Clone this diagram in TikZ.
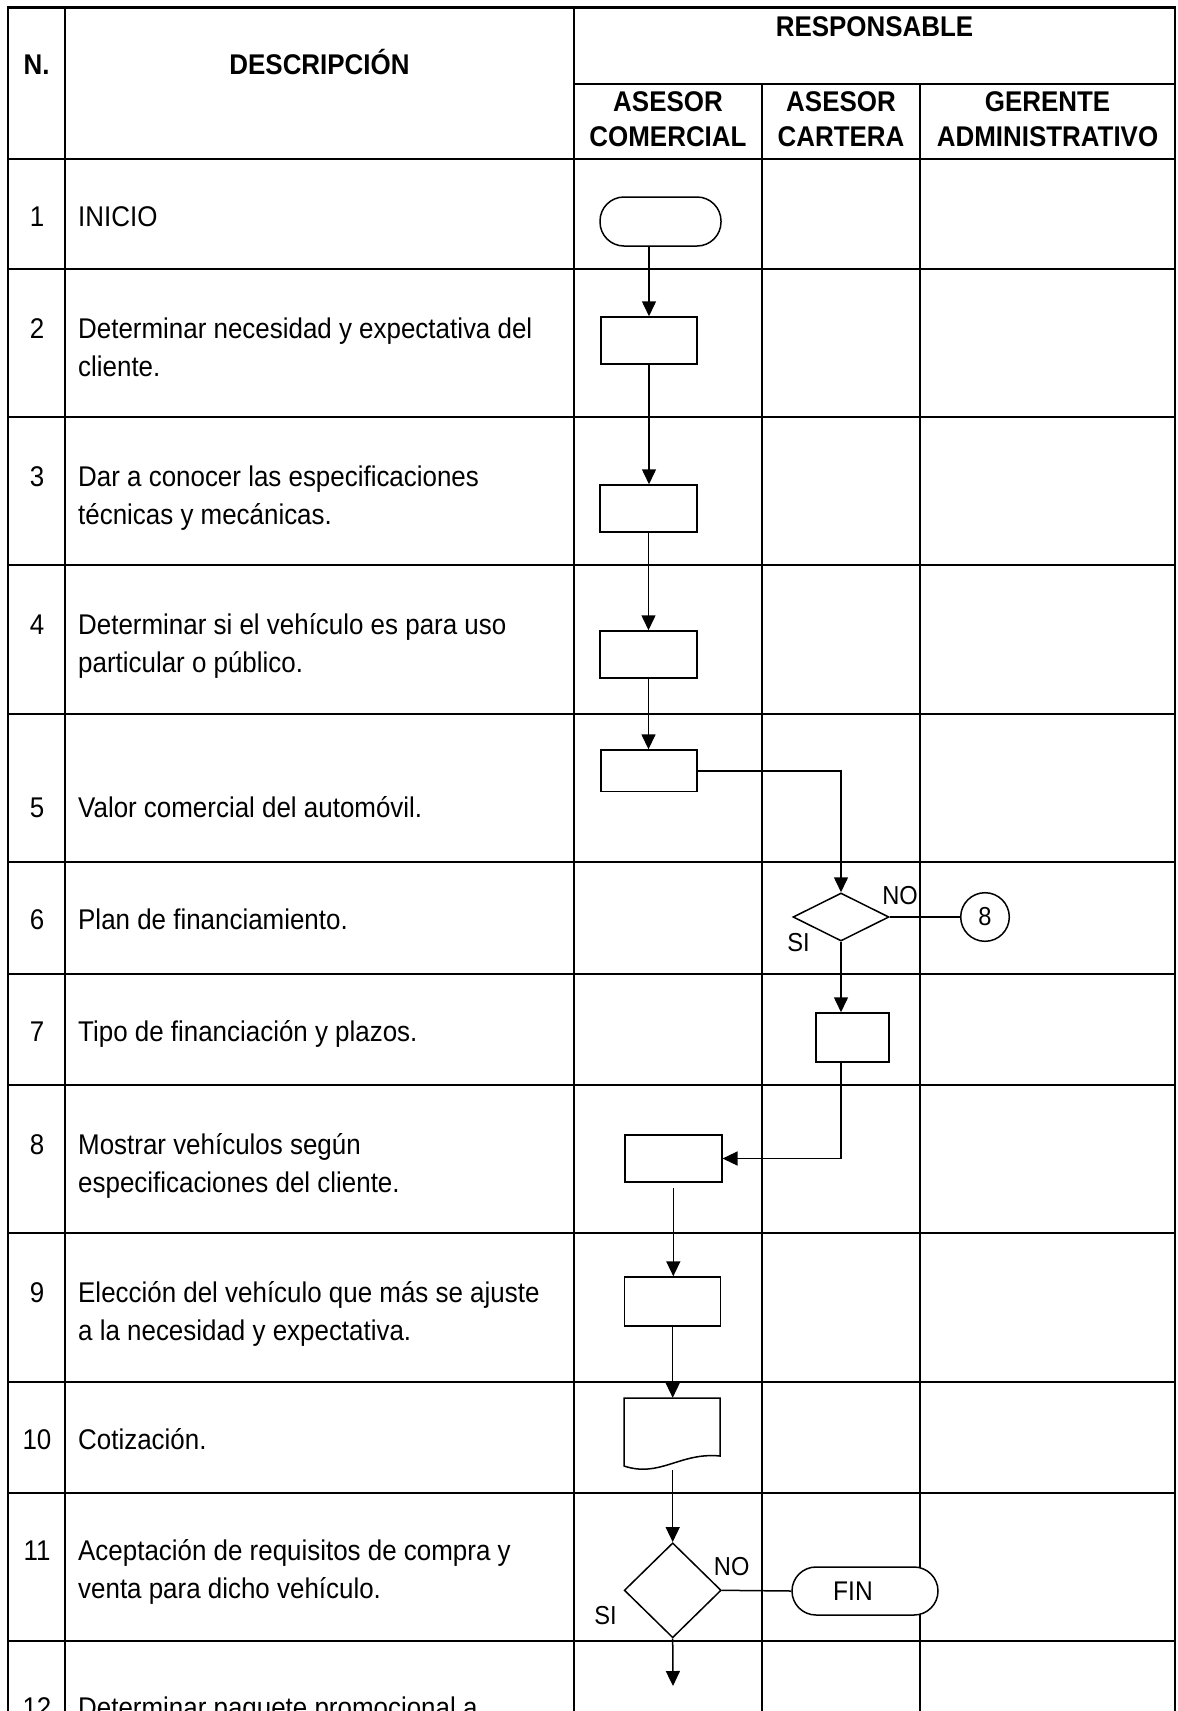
\documentclass[tikz,border=0pt]{standalone}
\usepackage{fontspec}
\setmainfont[FakeStretch=0.91]{Liberation Sans}
\usetikzlibrary{arrows.meta,shapes.geometric}
\begin{document}
\begin{tikzpicture}[x=1pt,y=-1pt,
  every node/.style={font=\fontsize{28.5}{38}\selectfont, inner sep=0pt},
  gridline/.style={line width=2.1pt, line cap=rect},
  shapeline/.style={draw, line width=1.5pt, fill=white},
  procbox/.style={shapeline, rectangle, minimum width=96pt, minimum height=47pt},
  termbox/.style={shapeline, rectangle, rounded corners=24pt},
  decision/.style={shapeline, diamond},
  pageref/.style={shapeline, circle, minimum size=48.6pt, font=\fontsize{26}{30}\selectfont},
  connector/.style={line width=1.5pt},
  flowarrow/.style={connector, -{Triangle[length=15pt,width=14pt]}},
  desctext/.style={anchor=base west, align=left},
  numtext/.style={anchor=base},
  headtext/.style={anchor=base, align=center, font=\fontsize{28.5}{35}\selectfont\bfseries},
  branchlabel/.style={font=\fontsize{26}{30}\selectfont}]

\useasboundingbox (0,0) rectangle (1178,1711);
\fill[white] (0,0) rectangle (1178,1711);

% table frame and rules
\draw[gridline] (8,1716) -- (8,7.5) -- (1175,7.5) -- (1175,1716);
\draw[gridline] (65,7.5) -- (65,1716);
\draw[gridline] (574,7.5) -- (574,1716);
\draw[gridline] (574,84) -- (1175,84);
\draw[gridline] (762,84) -- (762,1716);
\draw[gridline] (920,84) -- (920,1716);
\foreach \r in {159,269,417,565,714,862,974,1085,1233,1382,1493,1641}
  \draw[gridline] (8,\r) -- (1175,\r);

% headings (multi-line nodes sit on the baseline of their last line)
\node[headtext] (hN) at (36.5,74) {N.};
\node[headtext] (hDesc) at (319.5,74) {DESCRIPCIÓN};
\node[headtext] (hResp) at (874.5,36) {RESPONSABLE};
\node[headtext] (hAC) at (668,146.7) {ASESOR\\COMERCIAL};
\node[headtext] (hACa) at (841,146.7) {ASESOR\\CARTERA};
\node[headtext] (hGA) at (1047.5,146.7) {GERENTE\\ADMINISTRATIVO};

% step numbers
\node[numtext] (n1) at (37,226) {1};
\node[numtext] (n2) at (37,338.3) {2};
\node[numtext] (n3) at (37,486.3) {3};
\node[numtext] (n4) at (37,634.8) {4};
\node[numtext] (n5) at (37,817) {5};
\node[numtext] (n6) at (37,929.5) {6};
\node[numtext] (n7) at (37,1041) {7};
\node[numtext] (n8) at (37,1154.3) {8};
\node[numtext] (n9) at (37,1302.8) {9};
\node[numtext] (n10) at (37,1449) {10};
\node[numtext] (n11) at (37,1560) {11};
\node[numtext] (n12) at (37,1717) {12};

% step descriptions
\node[desctext] (t1) at (78,226) {INICIO};
\node[desctext] (t2) at (78,376.3) {Determinar necesidad y expectativa del\\cliente.};
\node[desctext] (t3) at (78,524.3) {Dar a conocer las especificaciones\\técnicas y mecánicas.};
\node[desctext] (t4) at (78,672.8) {Determinar si el vehículo es para uso\\particular o público.};
\node[desctext] (t5) at (78,817) {Valor comercial del automóvil.};
\node[desctext] (t6) at (78,929.5) {Plan de financiamiento.};
\node[desctext] (t7) at (78,1041) {Tipo de financiación y plazos.};
\node[desctext] (t8) at (78,1192.3) {Mostrar vehículos según\\especificaciones del cliente.};
\node[desctext] (t9) at (78,1340.8) {Elección del vehículo que más se ajuste\\a la necesidad y expectativa.};
\node[desctext] (t10) at (78,1449) {Cotización.};
\node[desctext] (t11) at (78,1598) {Aceptación de requisitos de compra y\\venta para dicho vehículo.};
\node[desctext] (t12) at (78,1717) {Determinar paquete promocional a};

% flowchart symbols
\node[termbox, minimum width=121pt, minimum height=49pt] (start) at (660.5,221.5) {};
\node[procbox] (b2) at (649,340.5) {};
\node[procbox, minimum width=97pt] (b3) at (648.5,508.5) {};
\node[procbox, minimum width=97pt] (b4) at (648.5,654.5) {};
\node[procbox, minimum height=41.5pt] (b5) at (649,770.8) {};
\node[decision, minimum width=96pt, minimum height=48pt] (d6) at (841,917) {};
\node[pageref] (c8) at (985,917) {8};
\node[procbox, minimum width=73pt, minimum height=49pt] (b7) at (852.5,1037.5) {};
\node[procbox, minimum width=97pt] (b8) at (673.3,1158.5) {};
\node[procbox, minimum height=49pt] (b9) at (672.7,1301.5) {};
\draw[shapeline] (624,1466) -- (624,1398) -- (720,1398) -- (720,1456)
  .. controls (680,1452) and (660,1478) .. (624,1466) -- cycle;
\node[minimum width=96pt, minimum height=68pt] (doc) at (672,1432) {};
\node[decision, minimum width=97pt, minimum height=95pt] (d11) at (672.7,1590.3) {};
\node[termbox, minimum width=146pt, minimum height=48pt,
  label={[xshift=-12pt, font=\fontsize{27}{30}\selectfont]center:FIN}] (fin) at (865,1591) {};
\coordinate (out) at (673,1686);

% branch labels
\node[branchlabel] (no6) at (900,896) {NO};
\node[branchlabel] (si6) at (798.5,943) {SI};
\node[branchlabel] (no11) at (731.7,1567) {NO};
\node[branchlabel] (si11) at (605.5,1616) {SI};

% connectors
\draw[flowarrow] (start.south -| b2.north) -- (b2.north);
\draw[flowarrow] (b2.south) -- (b2.south |- b3.north);
\draw[flowarrow] (b3.south) -- (b3.south |- b4.north);
\draw[flowarrow] (b4.south) -- (b4.south |- b5.north);
\draw[flowarrow] (b5.east) -| (d6.north);
\draw[connector] (d6.east) -- (c8.west);
\draw[flowarrow] (d6.south) -- (d6.south |- b7.north);
\draw[flowarrow] (b7.south -| d6.south) |- (b8.east);
\draw[flowarrow, shorten <=5pt] (b8.south) -- (b8.south |- b9.north);
\draw[flowarrow] (b9.south) -- (b9.south |- doc.north);
\draw[flowarrow, shorten <=4pt] (doc.south -| d11.north) -- (d11.north);
\draw[connector] (d11.east) -- (fin.west);
\draw[flowarrow] (d11.south) -- (out);
\end{tikzpicture}
\end{document}
